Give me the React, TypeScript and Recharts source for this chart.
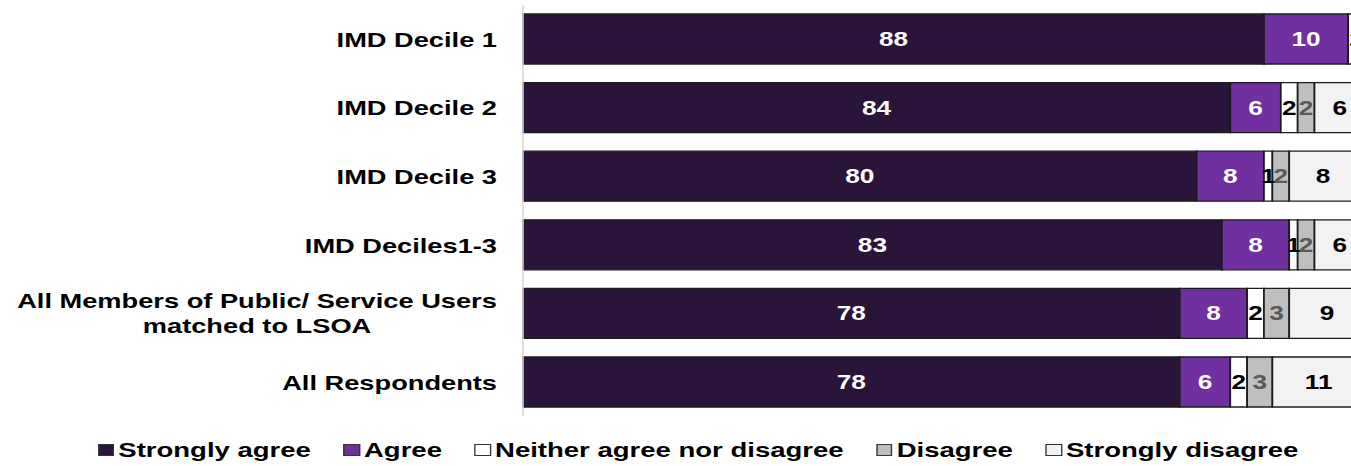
import React from 'react'
import { BarChart, Bar, XAxis, YAxis, LabelList, Legend } from 'recharts'

// the source picture is stretched horizontally, so the chart is drawn narrower and widened with scaleX
const STRETCH = 1.31
const CHART_W = 1044
const CHART_H = 466
const AXIS_W = 399.2
const FONT = "'Liberation Sans', Arial, sans-serif"

const categories = [
  'IMD Decile 1',
  'IMD Decile 2',
  'IMD Decile 3',
  'IMD Deciles1-3',
  'All Members of Public/ Service Users\nmatched to LSOA',
  'All Respondents',
]
const stronglyAgree = [88, 84, 80, 83, 78, 78]
const agree = [10, 6, 8, 8, 8, 6]
const neither = [2, 2, 1, 1, 2, 2]
const disagree = [0, 2, 2, 2, 3, 3]
const stronglyDisagree = [0, 6, 8, 6, 9, 11]

const seriesNames = ['Strongly agree', 'Agree', 'Neither agree nor disagree', 'Disagree', 'Strongly disagree']
const seriesKeys = ['sa', 'a', 'n', 'd', 'sd']
const seriesFills = ['#2B1439', '#7030A0', '#FFFFFF', '#BFBFBF', '#F2F2F2']
const labelColors = ['#FFFFFF', '#FFFFFF', '#000000', '#595959', '#000000']
const seriesValues = [stronglyAgree, agree, neither, disagree, stronglyDisagree]

const data = categories.map((name, i) => {
  const row: Record<string, string | number> = { name }
  seriesKeys.forEach((k, s) => {
    row[k] = seriesValues[s][i]
  })
  return row
})

let ctx: CanvasRenderingContext2D | null = null
function textWidth(t: string, size: number) {
  if (!ctx) ctx = document.createElement('canvas').getContext('2d')
  if (!ctx) return t.length * size * 0.55
  ctx.font = `bold ${size}px ${FONT}`
  return ctx.measureText(t).width
}

function CategoryTick(props: any) {
  const { y, payload } = props
  const size = 20.8
  const right = AXIS_W - 19.8
  const lines = String(payload.value).split('\n')
  if (lines.length === 1) {
    return (
      <text x={right} y={y} dy="0.36em" textAnchor="end" fontSize={size} fontWeight="bold" fontFamily={FONT} fill="#000">
        {lines[0]}
      </text>
    )
  }
  const widest = Math.max(...lines.map((l) => textWidth(l, size)))
  const cx = right - widest / 2
  const lh = 25
  const top = y - ((lines.length - 1) * lh) / 2 - 0.5
  return (
    <g>
      {lines.map((l, i) => (
        <text key={i} x={cx} y={top + i * lh} dy="0.36em" textAnchor="middle" fontSize={size} fontWeight="bold" fontFamily={FONT} fill="#000">
          {l}
        </text>
      ))}
    </g>
  )
}

function renderLegend() {
  return (
    <div
      style={{
        height: 30,
        display: 'flex',
        alignItems: 'center',
        paddingLeft: 74.8,
        fontFamily: FONT,
        fontWeight: 'bold',
        fontSize: 21,
        color: '#000',
        whiteSpace: 'nowrap',
      }}
    >
      {seriesNames.map((n, i) => (
        <div key={n} style={{ display: 'flex', alignItems: 'center', marginRight: 25 }}>
          <span
            style={{
              width: 10.5,
              height: 10.5,
              background: seriesFills[i],
              border: '1px solid #333',
              marginRight: 3,
              display: 'inline-block',
            }}
          />
          <span>{n}</span>
        </div>
      ))}
    </div>
  )
}

export default function App() {
  return (
    <div
      style={{
        position: 'fixed',
        left: 0,
        top: 0,
        width: 1351,
        height: CHART_H,
        overflow: 'hidden',
        background: '#fff',
      }}
    >
      <div style={{ width: CHART_W, height: CHART_H, transform: `scaleX(${STRETCH})`, transformOrigin: '0 0' }}>
        <BarChart
          width={CHART_W}
          height={CHART_H}
          data={data}
          layout="vertical"
          barSize={50}
          margin={{ top: 5, right: 2, bottom: 19.4, left: 0 }}
        >
          <XAxis type="number" domain={[0, 100]} hide />
          <YAxis
            type="category"
            dataKey="name"
            width={AXIS_W}
            axisLine={{ stroke: '#D9D9D9', strokeWidth: 1.2 }}
            tickLine={false}
            interval={0}
            tick={<CategoryTick />}
          />
          <Legend
            verticalAlign="bottom"
            content={renderLegend}
            wrapperStyle={{ left: 0, bottom: 1, width: CHART_W }}
          />
          {seriesKeys.map((k, s) => (
            <Bar
              key={k}
              dataKey={k}
              name={seriesNames[s]}
              stackId="all"
              fill={seriesFills[s]}
              stroke="#1c1c1c"
              strokeWidth={1.3}
              isAnimationActive={false}
            >
              <LabelList
                dataKey={k}
                position="center"
                fill={labelColors[s]}
                fontSize={20}
                fontWeight="bold"
                fontFamily={FONT}
                formatter={(v: any) => (Number(v) > 0 ? v : '')}
              />
            </Bar>
          ))}
        </BarChart>
      </div>
    </div>
  )
}
